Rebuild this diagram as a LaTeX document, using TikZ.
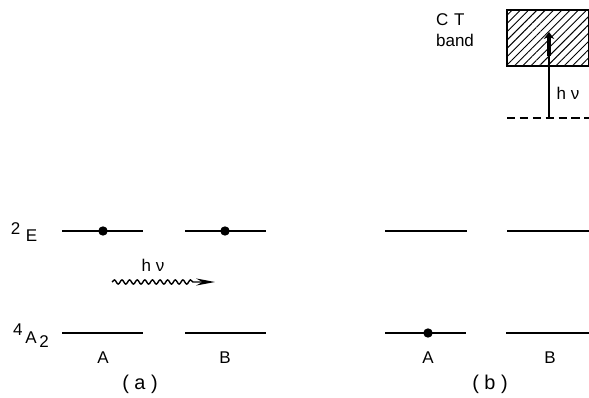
\documentclass[tikz,border=0pt]{standalone}
\usepackage{fontspec}
\setmainfont{Liberation Sans}
\usetikzlibrary{arrows.meta,patterns.meta,decorations.pathmorphing}

\begin{document}
\begin{tikzpicture}[x=0.03cm, y=-0.03cm, >=Stealth, line width=1pt,
    level/.style={line width=1.3pt},
    electron/.style={circle, fill=black, inner sep=0pt, minimum size=8pt},
    lbl/.style={font=\fontsize{14.5}{17}\selectfont, inner sep=1pt},
    caption/.style={font=\fontsize{17}{20}\selectfont, inner sep=1pt}]
    \useasboundingbox (0,0) rectangle (589,398);

    % Energy levels, panel (a)
    \coordinate (aEl) at (62,231);  \coordinate (aEr) at (143,231);
    \coordinate (bEl) at (185,231); \coordinate (bEr) at (266,231);
    \coordinate (aGl) at (62,333);  \coordinate (aGr) at (143,333);
    \coordinate (bGl) at (185,333); \coordinate (bGr) at (266,333);
    \draw[level] (aEl) -- (aEr);
    \draw[level] (bEl) -- (bEr);
    \draw[level] (aGl) -- (aGr);
    \draw[level] (bGl) -- (bGr);
    \node[electron] (eA) at (103,231) {};
    \node[electron] (eB) at (225,231) {};

    \node[lbl] (lE) at (24,232) {\raisebox{6pt}{2}\,\,E};
    \node[lbl] (lG) at (31,336) {\raisebox{6pt}{4}\,A\,\raisebox{-4pt}{2}};
    \node[lbl] (la) at (103,358) {A};
    \node[lbl] (lb) at (225,358) {B};
    \node[caption] (capa) at (140,384) {( a )};

    % Photon transfer
    \coordinate (wS) at (112,282);
    \coordinate (wT) at (215,282);
    \draw[line width=1.2pt, decorate, decoration={snake, amplitude=1.8pt, segment length=6.5pt, post length=18pt},
        -{Stealth[length=16pt, width=6pt]}] (wS) -- (wT);
    \node[lbl] (hv1) at (153,265) {h ν};

    % Energy levels, panel (b)
    \coordinate (cEl) at (385,231); \coordinate (cEr) at (467,231);
    \coordinate (dEl) at (507,231); \coordinate (dEr) at (589,231);
    \coordinate (cGl) at (385,333); \coordinate (cGr) at (466,333);
    \coordinate (dGl) at (506,333); \coordinate (dGr) at (589,333);
    \draw[level] (cEl) -- (cEr);
    \draw[level] (dEl) -- (dEr);
    \draw[level] (cGl) -- (cGr);
    \draw[level] (dGl) -- (dGr);
    \node[electron] (gA) at (428,333) {};
    \node[lbl] (lc) at (428,358) {A};
    \node[lbl] (ld) at (550,358) {B};
    \node[caption] (capb) at (490,384) {( b )};

    % CT band
    \draw[line width=1.4pt, pattern={Lines[angle=45, distance=5pt, line width=0.8pt]}]
        (507,10) rectangle (588.5,66);
    \node[lbl, align=left] (ct) at (455,30) {C\,\,T\\[1pt]band};
    \coordinate (dL) at (507,118); \coordinate (dR) at (589,118);
    \draw[level, dash pattern=on 7pt off 4pt] (dL) -- (dR);
    \coordinate (ctBase) at (549,118);
    \coordinate (ctMid) at (549,56);
    \coordinate (ctTop) at (549,32);
    \draw[line width=1.1pt] (ctBase) -- (ctMid);
    \draw[line width=3.2pt, -{Stealth[length=6pt, width=9pt]}] (ctMid) -- (ctTop);
    \node[lbl] (hv2) at (568,93) {h ν};
\end{tikzpicture}
\end{document}
